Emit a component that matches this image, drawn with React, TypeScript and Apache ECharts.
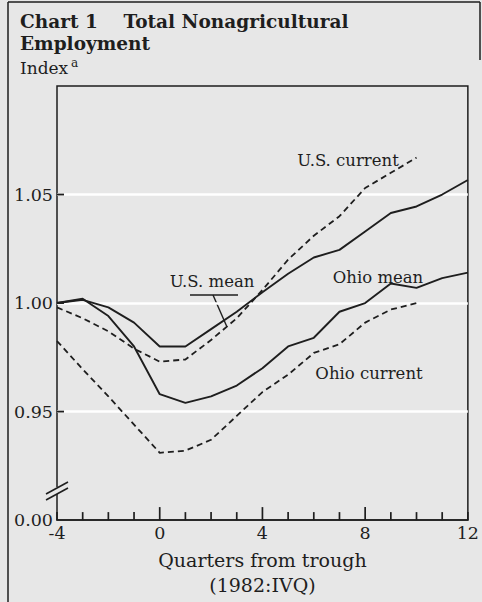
import React, { useEffect, useRef } from "react";
import * as echarts from "echarts";

const quarters = [-4, -3, -2, -1, 0, 1, 2, 3, 4, 5, 6, 7, 8, 9, 10, 11, 12];
const usMean = [1.0, 1.0015, 0.998, 0.991, 0.98, 0.98, 0.988, 0.996, 1.005, 1.0135, 1.021, 1.0245, 1.033, 1.0415, 1.0445, 1.05, 1.0567];
const ohioMean = [1.0, 1.002, 0.994, 0.98, 0.958, 0.954, 0.957, 0.962, 0.97, 0.98, 0.984, 0.996, 1.0, 1.009, 1.007, 1.0115, 1.014];
const usCurrent = [0.998, 0.993, 0.987, 0.979, 0.973, 0.974, 0.983, 0.993, 1.006, 1.02, 1.031, 1.04, 1.053, 1.06, 1.067, null, null];
const ohioCurrent = [0.9825, 0.9695, 0.957, 0.944, 0.931, 0.932, 0.937, 0.948, 0.959, 0.967, 0.977, 0.981, 0.991, 0.997, 1.0, null, null];

const xTickLabels = [-4, 0, 4, 8, 12];
const xMajorTicks = [0, 4, 8];
const yTickValues = [0.95, 1.0, 1.05];
const yTickLabels = ["0.00", "0.95", "1.00", "1.05"];

const titleLine1 = "Chart 1    Total Nonagricultural";
const titleLine2 = "Employment";
const unitLabel = "Index";
const xName = "Quarters from trough\n(1982:IVQ)";

const FONT = "'DejaVu Serif', serif";
const INK = "#1e1e1e";
const BG = "#e7e7e7";
const Y_MIN = 0.9;

function pairs(vals: (number | null)[]) {
  return quarters.map((q, i) => [q, vals[i]]);
}

export default function App() {
  const ref = useRef<HTMLDivElement>(null);
  useEffect(() => {
    document.body.style.margin = "0";
    const chart = echarts.init(ref.current!, null, { renderer: "svg" });
    const lineBase = { type: "line", symbol: "none", silent: true, connectNulls: false };
    chart.setOption({
      animation: false,
      backgroundColor: BG,
      grid: {
        left: 57,
        right: 11,
        top: 86,
        bottom: 73,
        show: true,
        backgroundColor: BG,
        borderColor: INK,
        borderWidth: 1.5,
      },
      xAxis: {
        type: "value",
        min: -4,
        max: 12,
        interval: 4,
        axisLine: { show: true, onZero: false, lineStyle: { color: INK, width: 1.5 } },
        axisTick: { show: false },
        splitLine: { show: false },
        axisLabel: {
          color: INK,
          fontFamily: FONT,
          fontSize: 17.5,
          margin: 4,
          formatter: (v: number) => (xTickLabels.includes(Math.round(v)) ? String(Math.round(v)) : ""),
        },
        name: xName,
        nameLocation: "middle",
        nameGap: 26,
        nameTextStyle: { color: INK, fontFamily: FONT, fontSize: 19, lineHeight: 25 },
      },
      yAxis: {
        type: "value",
        min: Y_MIN,
        max: 1.1,
        interval: 0.05,
        axisLine: { show: false, onZero: false },
        axisTick: { show: false },
        splitLine: { show: true, lineStyle: { color: ["transparent", "#ffffff", "#ffffff", "#ffffff"], width: 2.5 } },
        axisLabel: {
          color: INK,
          fontFamily: FONT,
          fontSize: 17.5,
          margin: 4,
          showMaxLabel: false,
          formatter: (v: number) => {
            const i = Math.round((v - 0.9) / 0.05);
            if (Math.abs(v - (0.9 + i * 0.05)) > 1e-6) return "";
            return yTickLabels[i] ?? "";
          },
        },
      },
      series: [
        { ...lineBase, name: "U.S. mean", data: pairs(usMean), lineStyle: { color: INK, width: 1.9 } },
        { ...lineBase, name: "Ohio mean", data: pairs(ohioMean), lineStyle: { color: INK, width: 1.9 } },
        { ...lineBase, name: "U.S. current", data: pairs(usCurrent), lineStyle: { color: INK, width: 1.8, type: [6, 4] } },
        { ...lineBase, name: "Ohio current", data: pairs(ohioCurrent), lineStyle: { color: INK, width: 1.8, type: [6, 4] } },
        {
          type: "custom",
          name: "xTicks",
          silent: true,
          clip: false,
          z: 5,
          data: quarters.map((q) => [q, xMajorTicks.includes(q) ? 1 : 0]),
          renderItem: (_p: any, api: any) => {
            const pt = api.coord([api.value(0), Y_MIN]);
            const len = api.value(1) ? 13 : 8;
            return {
              type: "line",
              shape: { x1: pt[0], y1: pt[1], x2: pt[0], y2: pt[1] - len },
              style: { stroke: INK, lineWidth: 1.7 },
            };
          },
        },
        {
          type: "custom",
          name: "yTicks",
          silent: true,
          clip: false,
          z: 5,
          data: yTickValues.map((v) => [-4, v]),
          renderItem: (_p: any, api: any) => {
            const pt = api.coord([api.value(0), api.value(1)]);
            return {
              type: "line",
              shape: { x1: pt[0], y1: pt[1], x2: pt[0] + 7, y2: pt[1] },
              style: { stroke: INK, lineWidth: 1.8 },
            };
          },
        },
      ],
      graphic: [
        // outer frame
        { type: "line", shape: { x1: 8, y1: 2, x2: 8, y2: 602 }, style: { stroke: INK, lineWidth: 1.5 } },
        { type: "line", shape: { x1: 8, y1: 2, x2: 480, y2: 2 }, style: { stroke: INK, lineWidth: 1.5 } },
        { type: "line", shape: { x1: 480, y1: 2, x2: 480, y2: 60 }, style: { stroke: INK, lineWidth: 1.5 } },
        // titles
        { type: "text", x: 20, y: 21, style: { text: titleLine1, font: `bold 18.5px ${FONT}`, fill: INK, verticalAlign: "middle" } },
        { type: "text", x: 20, y: 43, style: { text: titleLine2, font: `bold 18.5px ${FONT}`, fill: INK, verticalAlign: "middle" } },
        { type: "text", x: 20, y: 68, style: { text: unitLabel, font: `17px ${FONT}`, fill: INK, verticalAlign: "middle" } },
        { type: "text", x: 71, y: 63, style: { text: "a", font: `12px ${FONT}`, fill: INK, verticalAlign: "middle" } },
        // axis break
        { type: "rect", z: 100, shape: { x: 53, y: 487, width: 8, height: 7 }, style: { fill: BG } },
        { type: "line", z: 101, shape: { x1: 46, y1: 494, x2: 68, y2: 482 }, style: { stroke: INK, lineWidth: 1.6 } },
        { type: "line", z: 101, shape: { x1: 46, y1: 500, x2: 68, y2: 488 }, style: { stroke: INK, lineWidth: 1.6 } },
        // annotations
        { type: "text", x: 348, y: 160, style: { text: "U.S. current", font: `16.5px ${FONT}`, fill: INK, align: "center", verticalAlign: "middle" } },
        { type: "text", x: 378, y: 277, style: { text: "Ohio mean", font: `16.5px ${FONT}`, fill: INK, align: "center", verticalAlign: "middle" } },
        { type: "text", x: 369, y: 373, style: { text: "Ohio current", font: `16.5px ${FONT}`, fill: INK, align: "center", verticalAlign: "middle" } },
        { type: "text", x: 212, y: 281, style: { text: "U.S. mean", font: `16.5px ${FONT}`, fill: INK, align: "center", verticalAlign: "middle" } },
        { type: "line", shape: { x1: 190, y1: 295, x2: 238, y2: 295 }, style: { stroke: INK, lineWidth: 1.6 } },
        { type: "line", shape: { x1: 213, y1: 295, x2: 227, y2: 327 }, style: { stroke: INK, lineWidth: 1.4 } },
      ],
    });
    return () => chart.dispose();
  }, []);
  return <div ref={ref} style={{ width: 482, height: 602 }} />;
}
